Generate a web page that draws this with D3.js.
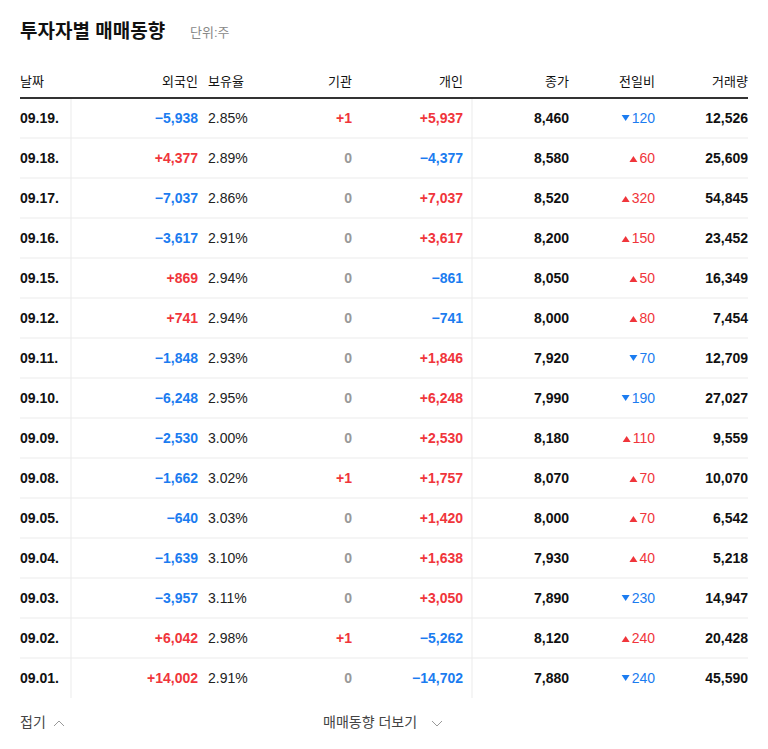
<!DOCTYPE html>
<html><head><meta charset="utf-8">
<script src="https://cdn.jsdelivr.net/npm/d3@7"></script>
<style>body{margin:0;background:#fff}svg{display:block}</style>
</head><body><svg id="c" width="768" height="749"></svg>
<script>
const dates=["09.19.","09.18.","09.17.","09.16.","09.15.","09.12.","09.11.","09.10.","09.09.","09.08.","09.05.","09.04.","09.03.","09.02.","09.01."];
const foreign=[-5938,4377,-7037,-3617,869,741,-1848,-6248,-2530,-1662,-640,-1639,-3957,6042,14002];
const holding=[2.85,2.89,2.86,2.91,2.94,2.94,2.93,2.95,3.00,3.02,3.03,3.10,3.11,2.98,2.91];
const inst=[1,0,0,0,0,0,0,0,0,1,0,0,0,1,0];
const indiv=[5937,-4377,7037,3617,-861,-741,1846,6248,2530,1757,1420,1638,3050,-5262,-14702];
const close=[8460,8580,8520,8200,8050,8000,7920,7990,8180,8070,8000,7930,7890,8120,7880];
const change=[-120,60,320,150,50,80,-70,-190,110,70,70,40,-230,240,-240];
const volume=[12526,25609,54845,23452,16349,7454,12709,27027,9559,10070,6542,5218,14947,20428,45590];
const headers=["날짜","외국인","보유율","기관","개인","종가","전일비","거래량"];

const RED="#f0353b",BLUE="#1b7cf0",GRAY="#999",DARK="#111";
const svg=d3.select("#c");
const KF="'Liberation Sans',Arial,'Noto Sans CJK KR',sans-serif";
const y=d3.scaleBand().domain(dates).range([98,698]);
const fmt=d3.format(",");
const sg=v=>v>0?"+"+fmt(v):fmt(v);
const col=v=>v>0?RED:v<0?BLUE:GRAY;

svg.append("text").attr("x",20).attr("y",38).attr("font-family",KF).attr("font-size",19).attr("font-weight","bold").attr("fill","#111").text("투자자별 매매동향");
svg.append("text").attr("x",190).attr("y",37).attr("font-family",KF).attr("font-size",13).attr("fill","#888").text("단위:주");

const hx=[[20,"start"],[198,"end"],[208,"start"],[352,"end"],[463,"end"],[569,"end"],[655,"end"],[748,"end"]];
svg.selectAll("text.h").data(headers).join("text").attr("class","h")
 .attr("x",(d,i)=>hx[i][0]).attr("text-anchor",(d,i)=>hx[i][1]).attr("y",86)
 .attr("font-family",KF).attr("font-size",13).attr("fill","#111").text(d=>d);

svg.append("line").attr("x1",20).attr("x2",748).attr("y1",98).attr("y2",98).attr("stroke","#333").attr("stroke-width",2);
svg.selectAll("line.r").data(dates.slice(0,-1)).join("line").attr("class","r")
 .attr("x1",20).attr("x2",748).attr("y1",d=>y(d)+y.bandwidth()).attr("y2",d=>y(d)+y.bandwidth()).attr("stroke","#ebebeb");
[71,472].forEach(x=>svg.append("line").attr("x1",x).attr("x2",x).attr("y1",99).attr("y2",698).attr("stroke","#ebebeb"));

const rows=svg.selectAll("g.row").data(dates).join("g").attr("class","row")
 .attr("transform",d=>`translate(0,${y(d)+y.bandwidth()/2+5})`)
 .attr("font-family",KF).attr("font-size",14);
const t=(sel,x,anchor,txt,fill,bold=true)=>sel.append("text").attr("x",x).attr("text-anchor",anchor).attr("fill",fill).attr("font-weight",bold?"bold":"normal").text(txt);
rows.each(function(d,i){
  const g=d3.select(this);
  t(g,20,"start",d,DARK);
  t(g,198,"end",sg(foreign[i]),col(foreign[i]));
  t(g,208,"start",holding[i].toFixed(2)+"%","#222",false);
  t(g,352,"end",sg(inst[i]),col(inst[i]));
  t(g,463,"end",sg(indiv[i]),col(indiv[i]));
  t(g,569,"end",fmt(close[i]),DARK);
  const c=change[i];
  const tx=t(g,655,"end",fmt(Math.abs(c)),c>0?RED:BLUE,false);
  const w=tx.node().getComputedTextLength();
  const ax=655-w-6;
  g.append("path").attr("d",c>0?`M${ax-4},-1 L${ax+4},-1 L${ax},-7 Z`:`M${ax-4},-8 L${ax+4},-8 L${ax},-2 Z`).attr("fill",c>0?RED:BLUE);
  t(g,748,"end",fmt(volume[i]),DARK);
});

svg.append("text").attr("x",20).attr("y",727).attr("font-family",KF).attr("font-size",14).attr("fill","#444").text("접기");
svg.append("path").attr("d","M54,726 L59,721 L64,726").attr("fill","none").attr("stroke","#999");
svg.append("text").attr("x",323).attr("y",727).attr("font-family",KF).attr("font-size",14).attr("fill","#444").text("매매동향 더보기");
svg.append("path").attr("d","M432,721 L437,726 L442,721").attr("fill","none").attr("stroke","#999");
</script></body></html>
